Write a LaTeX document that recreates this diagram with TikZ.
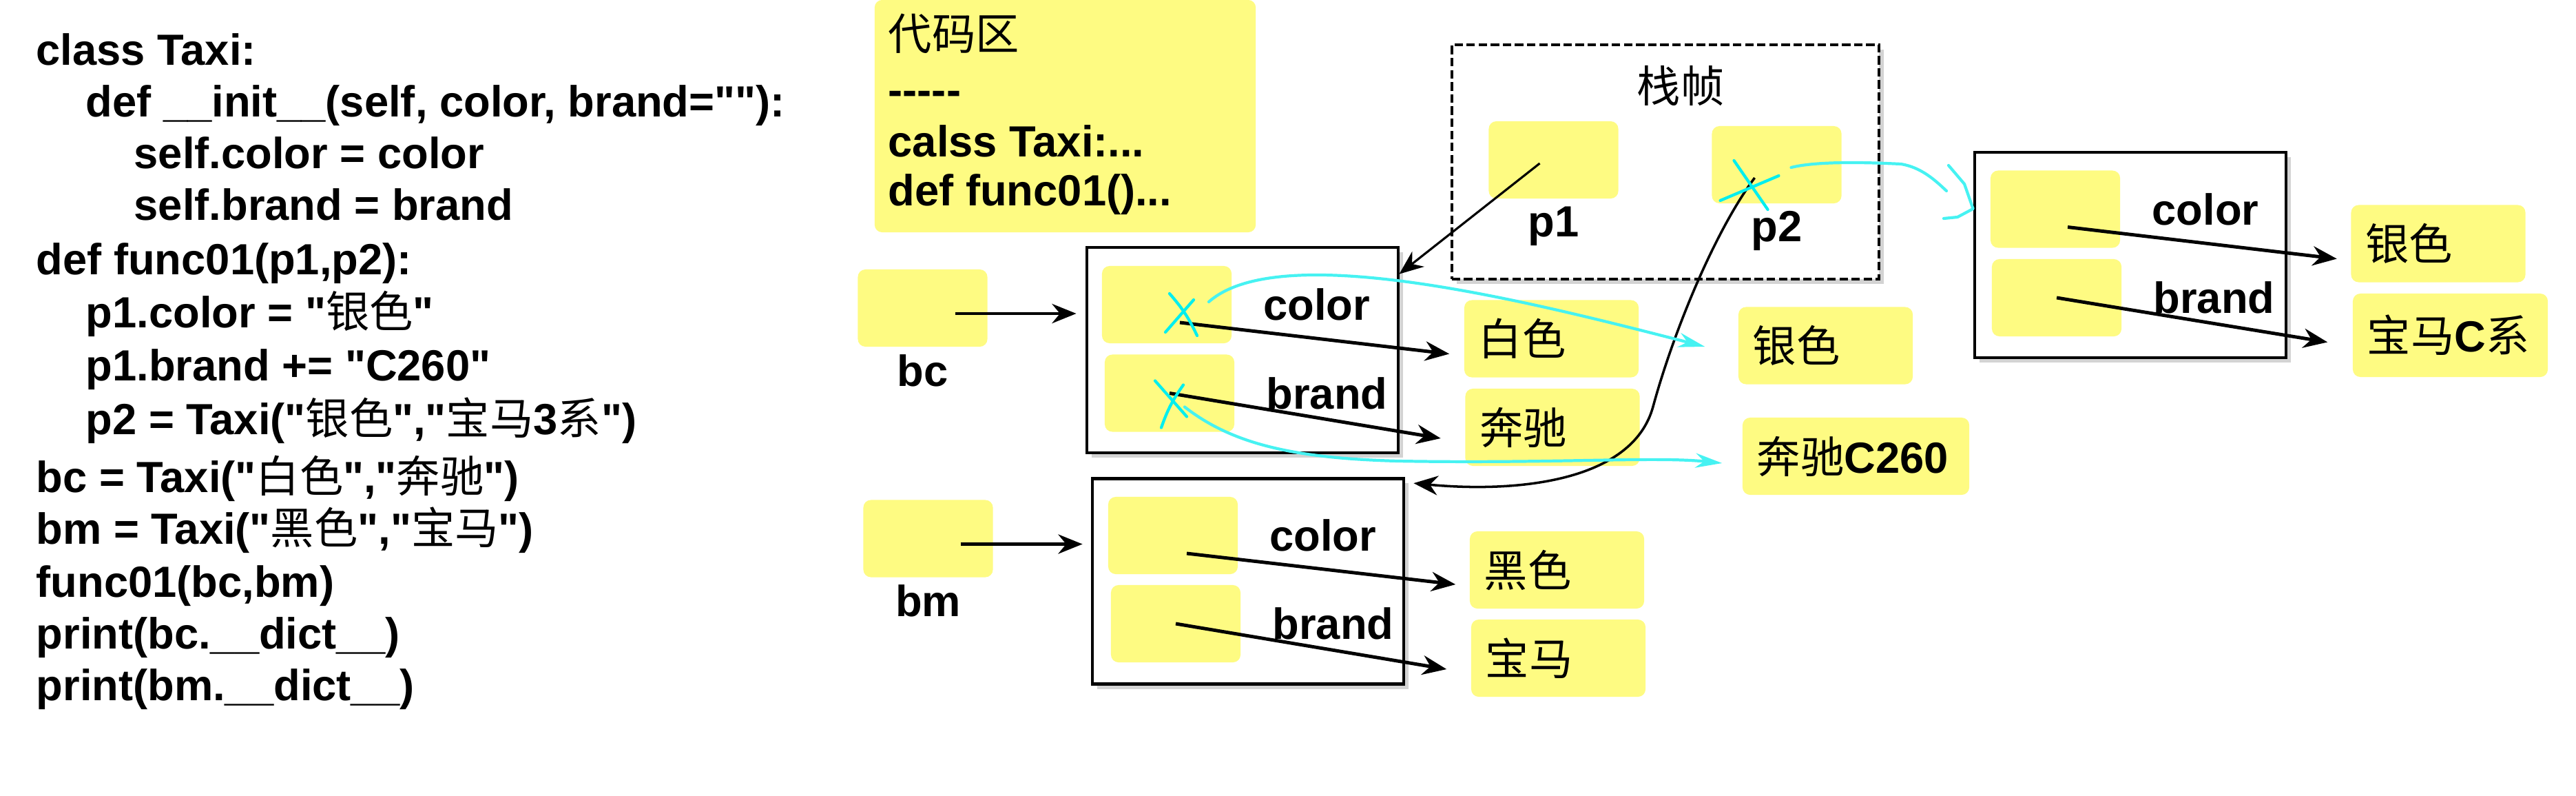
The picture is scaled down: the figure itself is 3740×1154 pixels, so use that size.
\documentclass[tikz,border=0pt]{standalone}
\usepackage{fontspec}
\setmainfont{Liberation Sans}[Ligatures=TeXOff]
\newfontfamily\cjk{Noto Sans CJK SC}
\newcommand{\zh}[1]{{\cjk\mdseries #1}}
\usetikzlibrary{arrows.meta, positioning, shadows}
\definecolor{note}{RGB}{254,251,130}
\definecolor{crosscyan}{RGB}{0,238,238}
\definecolor{flowcyan}{RGB}{70,242,242}

\begin{document}
\begin{tikzpicture}[x=0.01cm, y=-0.01cm,
	font=\bfseries\fontsize{18}{21}\selectfont,
	every node/.style={inner sep=0},
	slot/.style={fill=note, rounded corners=0.11cm, minimum width=1.88cm, minimum height=1.12cm},
	valbox/.style={fill=note, rounded corners=0.11cm, minimum height=1.12cm, inner xsep=0.21cm, align=left, text width=#1},
	valbox/.default=2.11cm,
	obj/.style={draw, line width=1.3pt, fill=white, minimum width=4.52cm, minimum height=2.98cm,
		drop shadow={shadow xshift=0.07cm, shadow yshift=-0.07cm, opacity=0.35}},
	ptr/.style={-{Stealth[length=10pt, width=8pt]}, line width=1.4pt},
	cyanline/.style={flowcyan, line width=1.2pt, line cap=round},
	cyanarrow/.style={cyanline, -{Stealth[length=11pt, width=6pt]}},
	xstroke/.style={crosscyan, line width=1.2pt, line cap=round}]

	\useasboundingbox (0,0) rectangle (3740,1154);

	% source code
	\node[anchor=base west] (l1) at (52,94) {class Taxi:};
	\node[anchor=base west] (l2) at (124,169) {def \_\_init\_\_(self, color, brand=""):};
	\node[anchor=base west] (l3) at (194,244) {self.color = color};
	\node[anchor=base west] (l4) at (194,319) {self.brand = brand};
	\node[anchor=base west] (l5) at (52,398) {def func01(p1,p2):};
	\node[anchor=base west] (l6) at (124,475) {p1.color = "\zh{银色}"};
	\node[anchor=base west] (l7) at (124,552) {p1.brand += "C260"};
	\node[anchor=base west] (l8) at (124,630) {p2 = Taxi("\zh{银色}","\zh{宝马}3\zh{系}")};
	\node[anchor=base west] (l9) at (52,714) {bc = Taxi("\zh{白色}","\zh{奔驰}")};
	\node[anchor=base west] (l10) at (52,789) {bm = Taxi("\zh{黑色}","\zh{宝马}")};
	\node[anchor=base west] (l11) at (52,866) {func01(bc,bm)};
	\node[anchor=base west] (l12) at (52,941) {print(bc.\_\_dict\_\_)};
	\node[anchor=base west] (l13) at (52,1016) {print(bm.\_\_dict\_\_)};

	% code area
	\node[fill=note, rounded corners=0.11cm, minimum width=5.53cm, minimum height=3.37cm] (codebox) at (1546.5,168.5) {};
	\node[anchor=base west] (code1) at (1289,72) {\zh{代码区}};
	\node[anchor=base west] (code2) at (1289,152) {-----};
	\node[anchor=base west] (code3) at (1289,227) {calss Taxi:...};
	\node[anchor=base west] (code4) at (1289,298) {def func01()...};

	% stack frame
	\node[draw, line width=1.1pt, dash pattern=on 3.5pt off 1.5pt, fill=white, minimum width=6.2cm, minimum height=3.4cm,
		drop shadow={shadow xshift=0.07cm, shadow yshift=-0.07cm, opacity=0.35}] (stackframe) at (2418,235) {};
	\node (zhen) at (2440,125) {\zh{栈帧}};
	\node[slot] (p1s) at (2255.5,232) {};
	\node[slot] (p2s) at (2579.5,239) {};
	\node[below=0.1cm of p1s] (p1lab) {p1};
	\node[below=0.1cm of p2s] (p2lab) {p2};

	% variables
	\node[slot] (bcv) at (1339.5,447) {};
	\node[slot] (bmv) at (1347.5,781.5) {};
	\node[below=0.1cm of bcv] (bclab) {bc};
	\node[below=0.1cm of bmv] (bmlab) {bm};

	% objects
	\node[obj] (bco) at (1804,508) {};
	\node[slot] (bcc) at (1694,442) {};
	\node[slot] (bcb) at (1698,570.5) {};
	\node[right=0.45cm of bcc] (bcclab) {color};
	\node[right=0.45cm of bcb] (bcblab) {brand};

	\node[obj] (bmo) at (1812,843.5) {};
	\node[slot] (bmc) at (1703,777) {};
	\node[slot] (bmb) at (1707,905) {};
	\node[right=0.45cm of bmc] (bmclab) {color};
	\node[right=0.45cm of bmb] (bmblab) {brand};

	\node[obj] (p2o) at (3093,370) {};
	\node[slot] (p2c) at (2984,303.5) {};
	\node[slot] (p2b) at (2986,432) {};
	\node[right=0.45cm of p2c] (p2clab) {color};
	\node[right=0.45cm of p2b] (p2blab) {brand};

	% values
	\node[valbox] (white) at (2252.5,491.5) {\zh{白色}};
	\node[valbox] (benz) at (2254,620) {\zh{奔驰}};
	\node[valbox] (silvera) at (2650.5,501.5) {\zh{银色}};
	\node[valbox=2.87cm] (benzc) at (2694.5,662) {\zh{奔驰}C260};
	\node[valbox] (blackc) at (2260.5,827) {\zh{黑色}};
	\node[valbox] (bmw) at (2262.5,955) {\zh{宝马}};
	\node[valbox] (silverb) at (3540,353.5) {\zh{银色}};
	\node[valbox=2.41cm, minimum height=1.21cm] (bmwc) at (3557.5,486.5) {\zh{宝马}C\zh{系}};

	% references
	\draw[ptr] ([shift={(47,8)}]bcv.center) -- ([shift={(-13,-53)}]bco.west);
	\draw[ptr] ([shift={(47,8)}]bmv.center) -- ([shift={(-12,-54)}]bmo.west);
	\draw[ptr] ([shift={(19,26)}]bcc.center) -- ([shift={(-21,22)}]white.west);
	\draw[ptr] (bcb.center) -- ([shift={(-35,16)}]benz.west);
	\draw[ptr] ([shift={(20,26)}]bmc.center) -- ([shift={(-20,21)}]blackc.west);
	\draw[ptr] (bmb.center) -- ([shift={(-35,16)}]bmw.west);
	\draw[ptr] ([shift={(18,26)}]p2c.center) -- ([shift={(-20,22)}]silverb.west);
	\draw[ptr] (p2b.center) -- ([shift={(-36,10)}]bmwc.west);
	\draw[ptr, line width=0.9pt] ([shift={(-20,5)}]p1s.center) -- ([shift={(-1,41)}]bco.north east);
	\draw[ptr, line width=1pt] ([shift={(-32,19)}]p2s.center) .. controls (2490,335) and (2430,480) .. (2400,590)
		.. controls (2370,700) and (2200,715) .. ([shift={(12,9)}]bmo.north east);

	% changes
	\draw[cyanarrow] ([shift={(61,-4)}]bcc.center) .. controls (1860,345) and (2230,440) .. ([shift={(-48,1.5)}]silvera.west);
	\draw[cyanarrow] ([shift={(22,20)}]bcb.center) .. controls (1790,645) and (1880,665) .. (2030,669)
		.. controls (2250,673) and (2400,662) .. ([shift={(-29,10)}]benzc.west);
	\draw[cyanline] ([shift={(21,4)}]p2s.center) .. controls (2640,233) and (2720,236) .. (2760,238)
		.. controls (2790,243) and (2810,262) .. (2826,277);
	\draw[cyanline, line join=round] (2829,240) -- (2852,267) -- ([yshift=0.67cm]p2o.west) -- (2842,315) -- (2822,317);

	\draw[xstroke] ([shift={(4,-16)}]bcc.center) to[bend left=8] ([shift={(44,45)}]bcc.center);
	\draw[xstroke] ([shift={(39,-7)}]bcc.center) -- ([shift={(-2,40)}]bcc.center);
	\draw[xstroke] ([shift={(-21,-18)}]bcb.center) -- ([shift={(25,34)}]bcb.center);
	\draw[xstroke] ([shift={(20,-12)}]bcb.center) to[bend right=8] ([shift={(-12,50)}]bcb.center);
	\draw[xstroke] ([shift={(-62,-6)}]p2s.center) -- ([shift={(-13,65)}]p2s.center);
	\draw[xstroke] ([shift={(3,16)}]p2s.center) -- ([shift={(-82,52)}]p2s.center);

\end{tikzpicture}
\end{document}
